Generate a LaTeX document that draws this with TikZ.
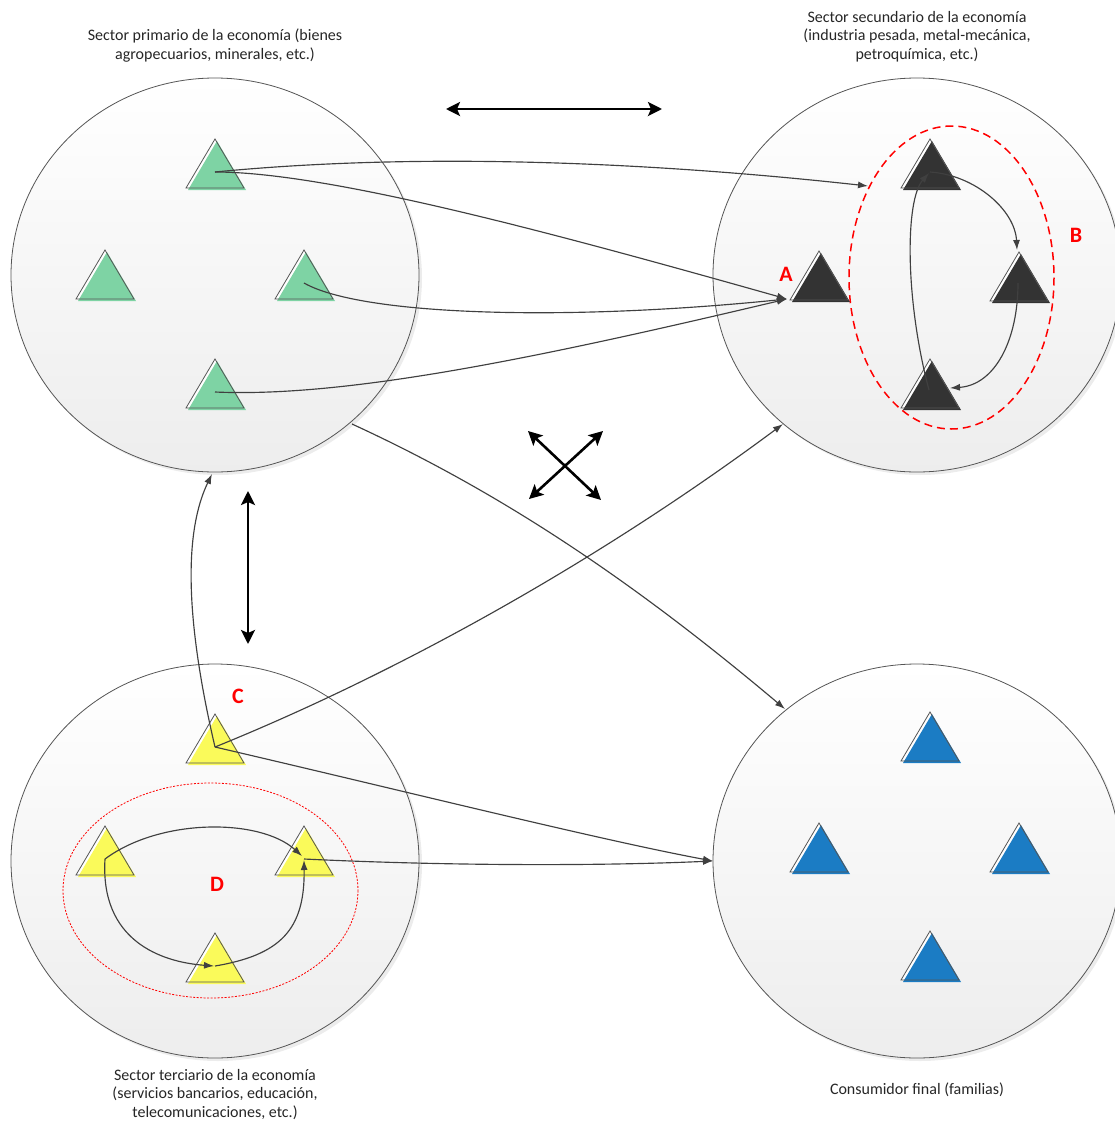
\documentclass[tikz,border=0pt]{standalone}
\usepackage{fontspec}
\setmainfont{Carlito}
\usetikzlibrary{arrows.meta,shapes.geometric,shadows}

\definecolor{cgreen}{RGB}{126,211,164}
\definecolor{cdark}{RGB}{51,51,51}
\definecolor{cyel}{RGB}{250,250,90}
\definecolor{cblue}{RGB}{27,124,196}
\definecolor{cline}{RGB}{64,64,64}
\definecolor{cedge}{RGB}{85,85,85}

\tikzset{
  sector/.style={ellipse, draw=cedge, line width=0.8pt, inner sep=0pt,
    minimum width=408pt, minimum height=394pt,
    top color=white, bottom color=black!7,
    drop shadow={opacity=0.15, shadow xshift=3pt, shadow yshift=-3pt}},
  caption/.style={align=center, font=\fontsize{16}{18.6}\selectfont, text=black!85, inner sep=0pt},
  letter/.style={text=red, font=\fontsize{22}{22}\selectfont\bfseries, inner sep=0pt},
  flow/.style={draw=cline, line width=1.15pt, -{Latex[length=10pt,width=7pt]}},
  bigarrow/.style={line width=2.6pt, {Stealth[length=14pt,width=14pt,inset=3pt]}-{Stealth[length=14pt,width=14pt,inset=3pt]}},
  redB/.style={draw=red, line width=1.5pt, dash pattern=on 8pt off 5pt},
  redD/.style={draw=red, line width=0.8pt, dash pattern=on 2pt off 1.5pt},
}

\newcommand\mytri[2]{%
  \begin{scope}[shift={(#1)}]
    \fill[white] (0,-33) -- (29,16) -- (-29,16) -- cycle;
    \fill[#2] (2,-31) -- (31,18) -- (-27,18) -- cycle;
    \draw[cedge, line width=0.8pt, line join=miter] (0,-33) -- (29,16) -- (-29,16) -- cycle;
  \end{scope}}

\begin{document}
\begin{tikzpicture}[x=1pt,y=-1pt]
\useasboundingbox (0,0) rectangle (1115,1122);

% sectors
\node[sector] (prim) at (215,275) {};
\node[sector] (sec)  at (917,275) {};
\node[sector] (ter)  at (215,861) {};
\node[sector] (cons) at (917,861) {};

% captions
\node[caption] (capP) at (215,45.5) {Sector primario de la economía (bienes\\agropecuarios, minerales, etc.)};
\node[caption] (capS) at (917,36.5) {Sector secundario de la economía\\(industria pesada, metal-mecánica,\\petroquímica, etc.)};
\node[caption] (capT) at (215,1094.5) {Sector terciario de la economía\\(servicios bancarios, educación,\\telecomunicaciones, etc.)};
\node[caption] (capC) at (917,1090) {Consumidor final (familias)};

% red groupings
\draw[redB] (951.5,277.5) ellipse [x radius=102.5, y radius=151.5];
\draw[redD] (210.5,890.5) ellipse [x radius=147.5, y radius=107.5];

% triangle positions (centroids)
\coordinate (p1) at (215,172);
\coordinate (p2) at (105,283);
\coordinate (p3) at (304,283);
\coordinate (p4) at (215,392);
\coordinate (sA) at (819,284);
\coordinate (s1) at (930,172);
\coordinate (s2) at (1019,285);
\coordinate (s3) at (930,392);
\coordinate (tC) at (215,747);
\coordinate (t1) at (105,859);
\coordinate (t2) at (304,859);
\coordinate (t3) at (215,966);
\coordinate (c1) at (930,745);
\coordinate (c2) at (819,856);
\coordinate (c3) at (1019,856);
\coordinate (c4) at (930,964);

\mytri{p1}{cgreen}\mytri{p2}{cgreen}\mytri{p3}{cgreen}\mytri{p4}{cgreen}
\mytri{sA}{cdark}\mytri{s1}{cdark}\mytri{s2}{cdark}\mytri{s3}{cdark}
\mytri{tC}{cyel}\mytri{t1}{cyel}\mytri{t2}{cyel}\mytri{t3}{cyel}
\mytri{c1}{cblue}\mytri{c2}{cblue}\mytri{c3}{cblue}\mytri{c4}{cblue}

% letters
\node[letter] (lA) at (786,274) {A};
\node[letter] (lB) at (1076,235) {B};
\node[letter] (lC) at (238,696) {C};
\node[letter] (lD) at (217,884) {D};

% connector end points
\coordinate (eB) at (868,186);
\coordinate (aA) at (787,299);
\coordinate (pOut) at (352,424);
\coordinate (cIn) at (785,709);
\coordinate (pBot) at (212,474);
\coordinate (sIn) at (783,424);
\coordinate (cL) at (713,861);
\coordinate (s2top) at (1017,250);
\coordinate (s3r) at (950,388);
\coordinate (s1c) at (929,173);
\coordinate (s3c) at (929,390);
\coordinate (s2c) at (1018,283);
\coordinate (t2a) at (302,856);
\coordinate (t2b) at (304,860);
\coordinate (t3c) at (214,966);

% flows
\draw[flow] (p1) .. controls (420,152) and (650,162) .. (eB);
\draw[flow] (p1) .. controls (330,172) and (560,235) .. (aA);
\draw[flow] (p3) .. controls (360,315) and (560,322) .. (aA);
\draw[flow] (p4) .. controls (350,398) and (550,355) .. (aA);
\draw[flow] (pOut) .. controls (502,493) and (633,581) .. (cIn);
\draw[flow] (tC) .. controls (190,640) and (180,540) .. (pBot);
\draw[flow] (tC) .. controls (400,672) and (600,560) .. (sIn);
\draw[flow] (tC) .. controls (400,790) and (600,840) .. (cL);
\draw[flow] (t2) .. controls (450,866) and (600,866) .. (cL);
\draw[flow] (s1) .. controls (975,175) and (1015,210) .. (s2top);
\draw[flow] (s2c) .. controls (1018,340) and (995,385) .. (s3r);
\draw[flow] (s3c) .. controls (905,300) and (905,200) .. (s1c);
\draw[flow] (t1) .. controls (160,818) and (260,818) .. (t2a);
\draw[flow] (t1) .. controls (100,940) and (160,962) .. (t3c);
\draw[flow] (t3) .. controls (280,955) and (305,930) .. (t2b);

% bold double arrows
\coordinate (h1) at (446,109);
\coordinate (h2) at (662,109);
\coordinate (v1) at (248,491);
\coordinate (v2) at (248,644);
\coordinate (x1) at (528,431);
\coordinate (x2) at (601,500);
\coordinate (x3) at (603,431);
\coordinate (x4) at (529,499);
\draw[bigarrow] (h1) -- (h2);
\draw[bigarrow] (v1) -- (v2);
\draw[bigarrow] (x1) -- (x2);
\draw[bigarrow] (x3) -- (x4);
\end{tikzpicture}
\end{document}
